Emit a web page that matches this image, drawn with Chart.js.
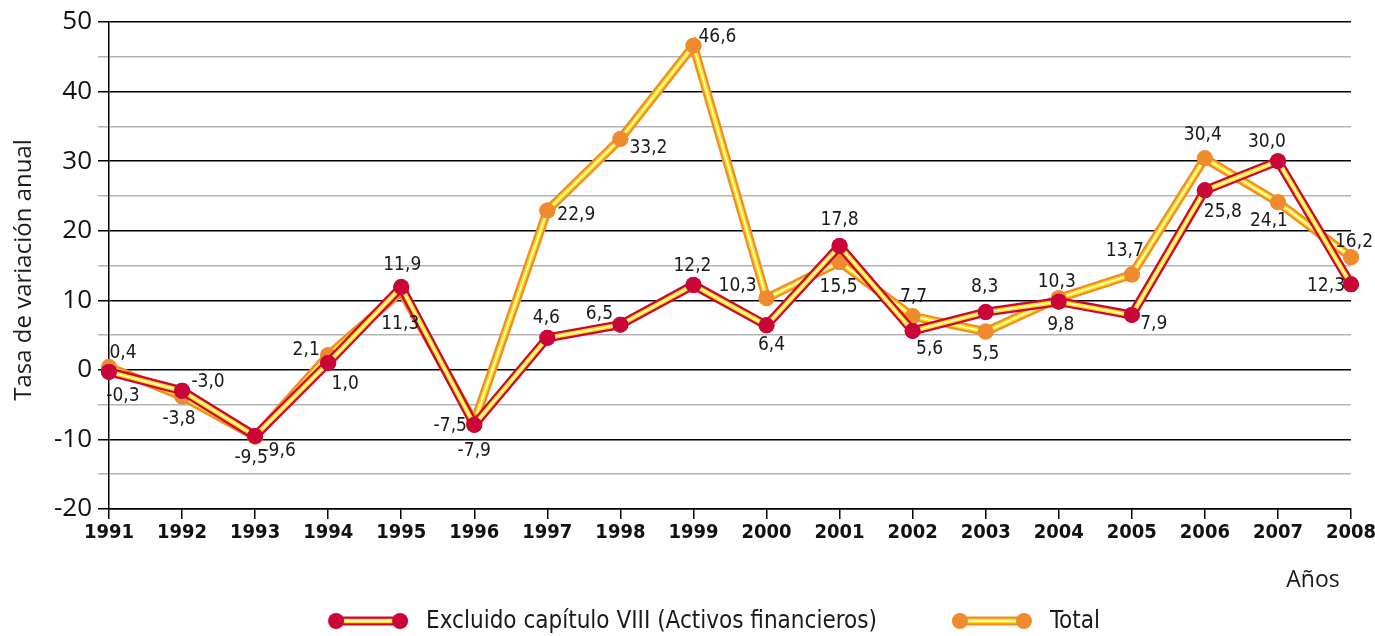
<!DOCTYPE html>
<html>
<head>
<meta charset="utf-8">
<script src="https://cdn.jsdelivr.net/npm/chart.js"></script>
<style>
  body { margin: 0; background: #fff; }
  #wrap { width: 1375px; height: 636px; position: relative; }
</style>
</head>
<body>
<div id="wrap"><canvas id="myChart"></canvas></div>
<script>
var years = ['1991', '1992', '1993', '1994', '1995', '1996', '1997', '1998', '1999',
             '2000', '2001', '2002', '2003', '2004', '2005', '2006', '2007', '2008'];
var excluido = [-0.3, -3.0, -9.5, 1.0, 11.9, -7.9, 4.6, 6.5, 12.2, 6.4, 17.8, 5.6, 8.3, 9.8, 7.9, 25.8, 30.0, 12.3];
var total = [0.4, -3.8, -9.6, 2.1, 11.3, -7.5, 22.9, 33.2, 46.6, 10.3, 15.5, 7.7, 5.5, 10.3, 13.7, 30.4, 24.1, 16.2];
var yMin = -20, yMax = 50, yStep = 5;

// where each value label sits, relative to its point (dx, dy)
var excluidoLabelPos = [[14,24],[26,-9],[-4,22],[17,21],[1,-22],[0,26],[-1,-20],[-21,-11],[-1,-19],[5,20],
                        [0,-26],[17,18],[-1,-25],[2,23],[22,9],[18,22],[-11,-19],[-25,2]];
var totalLabelPos = [[14,-14],[-3,23],[24,14],[-22,-5],[-1,33],[-24,4],[29,5],[28,9],[24,-9],[-29,-12],
                     [-1,25],[1,-19],[0,22],[-2,-16],[-7,-23],[-2,-23],[-9,19],[3,-15]];

var RED = '#CA0538', ORANGE = '#EF8B2C', YELLOW = '#FFE300';
var narrow = "'Liberation Sans Narrow', 'DejaVu Sans Condensed', sans-serif";
var futura = "'Open Sans', sans-serif";

function fmt(v) { return v.toFixed(1).replace('.', ','); }

function strokePath(ctx, pts, color, width) {
  ctx.beginPath();
  pts.forEach(function (p, i) { if (i === 0) ctx.moveTo(p.x, p.y); else ctx.lineTo(p.x, p.y); });
  ctx.strokeStyle = color;
  ctx.lineWidth = width;
  ctx.stroke();
}

// yellow/white stripe inside each line, then the points again on top
var stripes = {
  id: 'stripes',
  afterDatasetDraw: function (chart, args) {
    var ctx = chart.ctx, pts = args.meta.data;
    ctx.save();
    ctx.lineJoin = 'miter';
    strokePath(ctx, pts, YELLOW, 4.5);
    strokePath(ctx, pts, '#ffffff', 1.4);
    pts.forEach(function (p) { p.draw(ctx, chart.chartArea); });
    ctx.restore();
  }
};

var valueLabels = {
  id: 'valueLabels',
  afterDatasetsDraw: function (chart) {
    var ctx = chart.ctx;
    var offs = [excluidoLabelPos, totalLabelPos];
    ctx.save();
    ctx.font = '19px ' + narrow;
    ctx.fillStyle = '#1a1a1a';
    ctx.textAlign = 'center';
    ctx.textBaseline = 'middle';
    chart.data.datasets.forEach(function (ds, di) {
      chart.getDatasetMeta(di).data.forEach(function (p, i) {
        ctx.fillText(fmt(ds.data[i]), p.x + offs[di][i][0], p.y + offs[di][i][1]);
      });
    });
    ctx.restore();
  }
};

function legendSymbol(ctx, x1, x2, y, color) {
  ctx.lineCap = 'butt';
  strokePath(ctx, [{x: x1, y: y}, {x: x2, y: y}], color, 9);
  strokePath(ctx, [{x: x1, y: y}, {x: x2, y: y}], YELLOW, 4.5);
  strokePath(ctx, [{x: x1, y: y}, {x: x2, y: y}], '#ffffff', 1.4);
  ctx.fillStyle = color;
  [x1, x2].forEach(function (x) { ctx.beginPath(); ctx.arc(x, y, 8, 0, Math.PI * 2); ctx.fill(); });
}

var extras = {
  id: 'extras',
  afterDraw: function (chart) {
    var ctx = chart.ctx;
    ctx.save();
    // axis titles
    ctx.fillStyle = '#1a1a1a';
    ctx.font = '23px ' + futura;
    ctx.textAlign = 'center';
    ctx.textBaseline = 'middle';
    ctx.fillText('Años', 1313, 580);
    ctx.save();
    ctx.translate(24, 270);
    ctx.rotate(-Math.PI / 2);
    ctx.font = '24px ' + futura;
    ctx.fillText('Tasa de variación anual', 0, 0);
    ctx.restore();

    // legend
    var y = 621;
    var items = chart.data.datasets;
    ctx.font = '24px ' + narrow;
    var symW = 80, gapT = 18, gapI = 75;
    var widths = items.map(function (d) { return ctx.measureText(d.label).width; });
    var full = symW * 2 + gapT * 2 + widths[0] + widths[1] + gapI;
    var x = 714 - full / 2;
    ctx.textAlign = 'left';
    items.forEach(function (d, i) {
      legendSymbol(ctx, x + 8, x + symW - 8, y, d.borderColor);
      ctx.fillStyle = '#1a1a1a';
      ctx.fillText(d.label, x + symW + gapT, y + 1);
      x += symW + gapT + widths[i] + gapI;
    });
    ctx.restore();
  }
};

var ctx1 = document.getElementById('myChart').getContext('2d');
var myChart = new Chart(ctx1, {
  type: 'line',
  data: {
    labels: years,
    datasets: [{
      label: 'Excluido capítulo VIII (Activos financieros)',
      data: excluido,
      borderColor: RED,
      backgroundColor: RED,
      borderWidth: 9,
      pointRadius: 8,
      pointBorderWidth: 0,
      pointBackgroundColor: RED,
      tension: 0,
      clip: false
    }, {
      label: 'Total',
      data: total,
      borderColor: ORANGE,
      backgroundColor: ORANGE,
      borderWidth: 9,
      pointRadius: 8,
      pointBorderWidth: 0,
      pointBackgroundColor: ORANGE,
      tension: 0,
      clip: false
    }]
  },
  options: {
    responsive: true,
    maintainAspectRatio: false,
    animation: false,
    events: [],
    layout: { padding: { top: 22, right: 24, bottom: 87, left: 0 } },
    plugins: { legend: { display: false }, tooltip: { enabled: false } },
    scales: {
      x: {
        offset: false,
        afterFit: function (s) { s.height = 40; s.paddingLeft = 0; s.paddingRight = 0; },
        grid: { drawOnChartArea: false, color: '#000', tickLength: 10, lineWidth: 1.5 },
        border: { display: true, color: '#000', width: 1.5 },
        ticks: {
          color: '#111', padding: 2, maxRotation: 0, autoSkip: false,
          font: { family: narrow, size: 20, weight: 'bold' }
        }
      },
      y: {
        min: yMin, max: yMax,
        afterFit: function (s) { s.width = 109; },
        grid: {
          tickLength: 11, lineWidth: 1.5,
          color: function (c) { return c.tick && c.tick.value % 10 === 0 ? '#000' : '#b3b3b3'; }
        },
        border: { display: true, color: '#000', width: 1.5 },
        ticks: {
          stepSize: yStep, autoSkip: false, padding: 6, color: '#111',
          font: { family: futura, size: 26 },
          callback: function (v) { return v % 10 === 0 ? v : ''; }
        }
      }
    }
  },
  plugins: [stripes, valueLabels, extras]
});
</script>
</body>
</html>
